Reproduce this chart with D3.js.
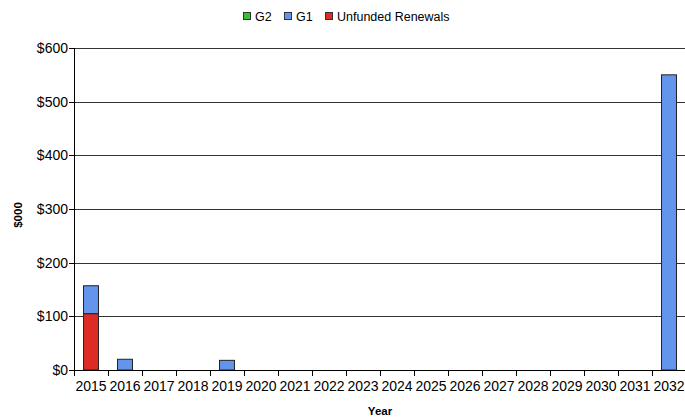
<!DOCTYPE html>
<html>
<head>
<meta charset="utf-8">
<script src="https://cdn.jsdelivr.net/npm/d3@7"></script>
<style>
  html, body { margin: 0; padding: 0; background: #fff; }
  svg { display: block; font-family: Arial, "Liberation Sans", sans-serif; }
</style>
</head>
<body>
<svg id="chart" width="685" height="419"></svg>
<script>
// Yearly funding, in $000
const years = ["2015","2016","2017","2018","2019","2020","2021","2022","2023",
               "2024","2025","2026","2027","2028","2029","2030","2031","2032"];
const g2Values        = [0, 0, 0, 0, 0, 0, 0, 0, 0, 0, 0, 0, 0, 0, 0, 0, 0, 0];
const g1Values        = [52, 20, 0, 0, 18, 0, 0, 0, 0, 0, 0, 0, 0, 0, 0, 0, 0, 550];
const unfundedValues  = [105, 0, 0, 0, 0, 0, 0, 0, 0, 0, 0, 0, 0, 0, 0, 0, 0, 0];
const yTicks = [0, 100, 200, 300, 400, 500, 600];

const colors = { "G2": "#33c233", "G1": "#6495ed", "Unfunded Renewals": "#dd2c25" };

const rows = years.map((y, i) => ({
  year: y,
  "Unfunded Renewals": unfundedValues[i],
  "G1": g1Values[i],
  "G2": g2Values[i]
}));

const svg = d3.select("#chart");
const margin = { left: 74, top: 48, right: -1, bottom: 49 };
const width = 685 - margin.left - margin.right;
const height = 419 - margin.top - margin.bottom;

const x = d3.scaleBand().domain(years).range([0, width]).paddingInner(0.56).paddingOuter(0.28);
const y = d3.scaleLinear().domain([0, 600]).range([height, 0]);

const g = svg.append("g").attr("transform", `translate(${margin.left},${margin.top})`);

// horizontal gridlines
g.selectAll("line.grid").data(yTicks.filter(d => d > 0)).join("line")
  .attr("class", "grid")
  .attr("x1", 0).attr("x2", width)
  .attr("y1", d => Math.round(y(d)) + 0.5).attr("y2", d => Math.round(y(d)) + 0.5)
  .attr("stroke", "#333").attr("stroke-width", 1);

// stacked bars: unfunded at bottom, then G1, then G2
const stack = d3.stack().keys(["Unfunded Renewals", "G1", "G2"]);
const layers = stack(rows);
g.selectAll("g.layer").data(layers).join("g")
  .attr("class", "layer")
  .attr("fill", d => colors[d.key])
  .selectAll("rect").data(d => d.filter(p => p[1] - p[0] > 0)).join("rect")
  .attr("x", d => x(d.data.year))
  .attr("width", x.bandwidth())
  .attr("y", d => y(d[1]))
  .attr("height", d => y(d[0]) - y(d[1]))
  .attr("stroke", "#222").attr("stroke-width", 1);

// x axis with ticks on band boundaries
const xAxisG = g.append("g").attr("transform", `translate(0,${height})`);
xAxisG.append("line").attr("x1", 0).attr("x2", width).attr("y1", 0.5).attr("y2", 0.5).attr("stroke", "#000");
const step = x.step();
xAxisG.selectAll("line.tick").data(d3.range(years.length + 1)).join("line")
  .attr("class", "tick")
  .attr("x1", i => Math.round(i * step) + 0.5).attr("x2", i => Math.round(i * step) + 0.5)
  .attr("y1", 0).attr("y2", 6).attr("stroke", "#000");
xAxisG.selectAll("text").data(years).join("text")
  .attr("x", d => x(d) + x.bandwidth() / 2)
  .attr("y", 21)
  .attr("text-anchor", "middle")
  .attr("font-size", 14)
  .attr("fill", "#000")
  .text(d => d);

// y axis
const yAxisG = g.append("g");
yAxisG.append("line").attr("x1", 0.5).attr("x2", 0.5).attr("y1", 0).attr("y2", height).attr("stroke", "#000");
yAxisG.selectAll("line.tick").data(yTicks).join("line")
  .attr("class", "tick")
  .attr("x1", -5).attr("x2", 0)
  .attr("y1", d => Math.round(y(d)) + 0.5).attr("y2", d => Math.round(y(d)) + 0.5)
  .attr("stroke", "#000");
yAxisG.selectAll("text").data(yTicks).join("text")
  .attr("x", -6)
  .attr("y", d => y(d) + 5)
  .attr("text-anchor", "end")
  .attr("font-size", 14)
  .attr("fill", "#000")
  .text(d => "$" + d);

// axis titles
svg.append("text")
  .attr("x", 380).attr("y", 415)
  .attr("text-anchor", "middle")
  .attr("font-size", 11.5).attr("font-weight", "bold")
  .text("Year");
svg.append("text")
  .attr("transform", "translate(22,215) rotate(-90)")
  .attr("text-anchor", "middle")
  .attr("font-size", 11.5).attr("font-weight", "bold")
  .text("$000");

// legend
const legendItems = [
  { name: "G2", x: 243 },
  { name: "G1", x: 284 },
  { name: "Unfunded Renewals", x: 325 }
];
const legend = svg.append("g");
legend.selectAll("rect").data(legendItems).join("rect")
  .attr("x", d => d.x + 0.5).attr("y", 12.5)
  .attr("width", 7).attr("height", 7)
  .attr("fill", d => colors[d.name])
  .attr("stroke", "#333");
legend.selectAll("text").data(legendItems).join("text")
  .attr("x", d => d.x + 12).attr("y", 21)
  .attr("font-size", 12.5)
  .attr("fill", "#000")
  .text(d => d.name);
</script>
</body>
</html>
